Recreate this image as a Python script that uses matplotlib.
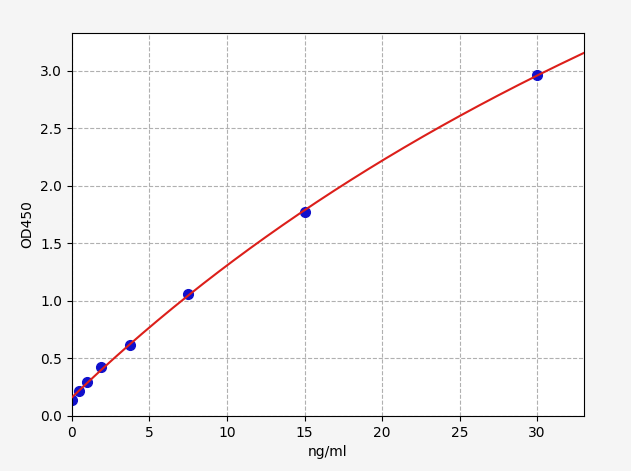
import numpy as np
import matplotlib
matplotlib.use("Agg")
import matplotlib.pyplot as plt

conc = [0, 0.47, 0.94, 1.88, 3.75, 7.5, 15, 30]
od = [0.135, 0.215, 0.295, 0.423, 0.62, 1.06, 1.77, 2.965]

x = np.array(conc, dtype=float)
y = np.array(od, dtype=float)

# 4-parameter logistic fit: grid search over b, c; linear LSQ for a, d
best = None
for b in np.linspace(1.0, 2.5, 76):
    for c in np.geomspace(10, 2000, 240):
        g = 1.0 / (1.0 + (x / c) ** b)
        A = np.column_stack([g, 1 - g])
        sol, *_ = np.linalg.lstsq(A, y, rcond=None)
        r = np.sum((A @ sol - y) ** 2)
        if best is None or r < best[0]:
            best = (r, b, c, sol)
_, b, c, (a, d) = best

fig = plt.figure(figsize=(6.31, 4.71), dpi=100, facecolor="#f5f5f5")
ax = fig.add_axes([0.114, 0.117, 0.811, 0.813])
ax.set_facecolor("white")

xs = np.linspace(0, 33, 300)
ys = d + (a - d) / (1.0 + (xs / c) ** b)
ax.plot(conc, od, "o", color="#1010cc", markersize=7, zorder=2)
ax.plot(xs, ys, color="#dc1f1a", lw=1.5, zorder=3)

ax.set_xlim(0, 33)
ax.set_ylim(0, 3.33)
ax.set_xticks([0, 5, 10, 15, 20, 25, 30])
ax.set_yticks([0.0, 0.5, 1.0, 1.5, 2.0, 2.5, 3.0])
ax.grid(True, linestyle="--", color="#b0b0b0", lw=0.8)
ax.set_axisbelow(True)
ax.set_xlabel("ng/ml")
ax.set_ylabel("OD450")

fig.savefig("out.png", dpi=100, facecolor=fig.get_facecolor())
